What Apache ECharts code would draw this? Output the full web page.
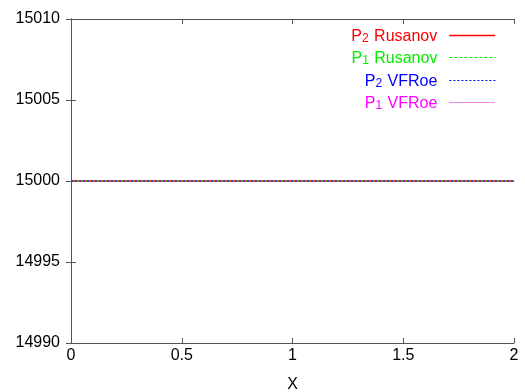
<!DOCTYPE html>
<html><head><meta charset="utf-8">
<script src="https://cdn.jsdelivr.net/npm/echarts@6/dist/echarts.min.js"></script>
<style>html,body{margin:0;padding:0;background:#fff}#c{width:525px;height:392px}</style>
</head><body><div id="c"></div>
<script>
const xValues = [0, 0.5, 1, 1.5, 2];
const p2Rusanov = [15000, 15000, 15000, 15000, 15000];
const p1Rusanov = [15000, 15000, 15000, 15000, 15000];
const p2VFRoe = [15000, 15000, 15000, 15000, 15000];
const p1VFRoe = [15000, 15000, 15000, 15000, 15000];
const seriesNames = ['P2 Rusanov', 'P1 Rusanov', 'P2 VFRoe', 'P1 VFRoe'];
const seriesColors = ['#ff0000', '#00ee00', '#0000ff', '#ff00ff'];
const seriesValues = [p2Rusanov, p1Rusanov, p2VFRoe, p1VFRoe];
const dashes = ['solid', [3, 2], [2, 2], [1, 1]];
const widths = [1.5, 1.2, 1.2, 1.2];

const FONT = 'Liberation Sans';
const FS = 16;
const chart = echarts.init(document.getElementById('c'));
const axisCol = '#555';
const legendTops = [22.5, 44.5, 67.5, 89.5];
function legendFmt(name) {
  const parts = name.split(' ');
  const sub = parts[0].slice(1);
  return '{a|P}{s|' + sub + '}{a| ' + parts.slice(1).join(' ') + '}';
}
const legends = seriesNames.map((n, i) => ({
  data: [n],
  right: 29,
  top: legendTops[i],
  align: 'right',
  itemWidth: 46,
  itemHeight: 9,
  itemGap: 0,
  padding: 0,
  selectedMode: false,
  formatter: legendFmt,
  itemStyle: {opacity: 0},
  lineStyle: {color: seriesColors[i], width: widths[i], type: dashes[i], opacity: 1},
  textStyle: {
    color: seriesColors[i],
    fontFamily: FONT,
    padding: [0, 7, 0, 0],
    rich: {
      a: {fontSize: FS, fontFamily: FONT, color: seriesColors[i], verticalAlign: 'bottom', lineHeight: 18},
      s: {fontSize: 12, fontFamily: FONT, color: seriesColors[i], padding: [10, 1, 0, 0], verticalAlign: 'bottom', lineHeight: 18}
    }
  }
}));
chart.setOption({
  animation: false,
  backgroundColor: '#fff',
  grid: {left: 71, right: 11, top: 19, bottom: 49, outerBoundsMode: 'none', containLabel: false},
  legend: legends,
  xAxis: [{
    type: 'value', min: 0, max: 2, interval: 0.5,
    name: 'X', nameLocation: 'middle', nameGap: 34,
    nameTextStyle: {fontFamily: FONT, fontSize: FS, color: '#000'},
    axisLine: {show: true, lineStyle: {color: axisCol, width: 1}},
    axisTick: {show: true, inside: true, length: 5, lineStyle: {color: axisCol}},
    axisLabel: {fontFamily: FONT, fontSize: FS, color: '#000', margin: 5},
    splitLine: {show: false}
  }, {
    type: 'value', min: 0, max: 2, interval: 0.5, position: 'top',
    axisLine: {show: true, lineStyle: {color: axisCol, width: 1}},
    axisTick: {show: true, inside: true, length: 5, lineStyle: {color: axisCol}},
    axisLabel: {show: false}, splitLine: {show: false}
  }],
  yAxis: [{
    type: 'value', min: 14990, max: 15010, interval: 5,
    axisLine: {show: true, lineStyle: {color: axisCol, width: 1}},
    axisTick: {show: true, inside: true, length: 5, lineStyle: {color: axisCol}},
    axisLabel: {fontFamily: FONT, fontSize: FS, color: '#000', margin: 11, formatter: v => String(v)},
    splitLine: {show: false}
  }, {
    type: 'value', min: 14990, max: 15010, interval: 5, position: 'right',
    axisLine: {show: true, lineStyle: {color: axisCol, width: 1}},
    axisTick: {show: true, inside: true, length: 5, lineStyle: {color: axisCol}},
    axisLabel: {show: false}, splitLine: {show: false}
  }],
  series: seriesNames.map((n, i) => ({
    name: n, type: 'line', symbol: 'none',
    data: xValues.map((x, j) => [x, seriesValues[i][j]]),
    lineStyle: {color: seriesColors[i], width: widths[i], type: dashes[i]},
    itemStyle: {color: seriesColors[i]},
    z: 2 + i
  }))
});
</script></body></html>
